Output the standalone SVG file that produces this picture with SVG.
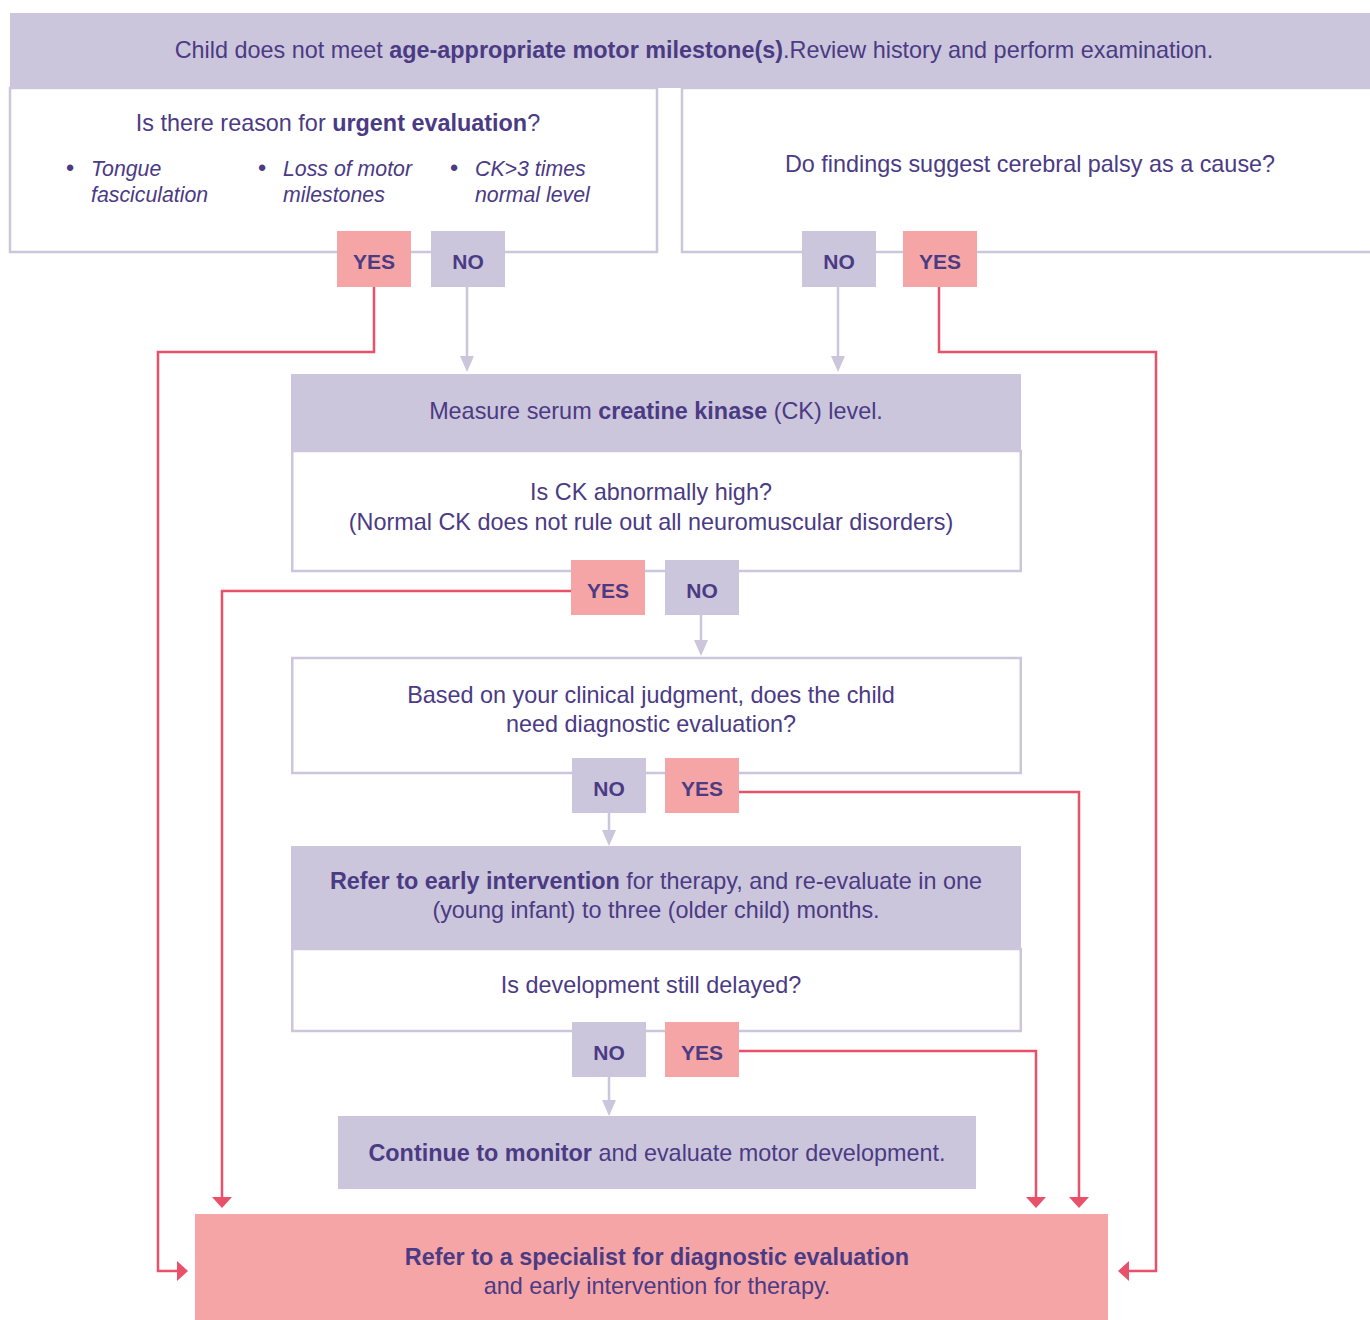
<svg xmlns="http://www.w3.org/2000/svg" width="1370" height="1320" viewBox="0 0 1370 1320">
<defs>
<style>
text{font-family:"Liberation Sans",Arial,sans-serif;fill:#4B3A84;font-size:23.4px}
.c{text-anchor:middle}
.b{font-weight:bold}
.i{font-style:italic;font-size:21.3px}
.lav{fill:#CBC6DC}
.pink{fill:#F6A5A6}
.box{fill:#fff;stroke:#CBC6DC;stroke-width:2.5}
.btn{font-weight:bold;font-size:21px;text-anchor:middle}
.red{fill:none;stroke:#E9506A;stroke-width:2.5}
.gl{fill:none;stroke:#CBC6DC;stroke-width:2.5}
</style>
</defs>

<g id="header">
<rect class="lav" x="10" y="13" width="1360" height="75"/>
<text class="c" x="694" y="58">Child does not meet <tspan class="b">age-appropriate motor milestone(s)</tspan>.Review history and perform examination.</text>
</g>

<g id="urgent">
<rect class="box" x="10" y="88" width="647" height="164"/>
<text class="c" x="338" y="131">Is there reason for <tspan class="b">urgent evaluation</tspan>?</text>
<text x="66" y="176" font-size="16">•</text>
<text class="i" x="91" y="176">Tongue</text>
<text class="i" x="91" y="202">fasciculation</text>
<text x="258" y="176" font-size="16">•</text>
<text class="i" x="283" y="176">Loss of motor</text>
<text class="i" x="283" y="202">milestones</text>
<text x="450" y="176" font-size="16">•</text>
<text class="i" x="475" y="176">CK&gt;3 times</text>
<text class="i" x="475" y="202">normal level</text>
</g>

<g id="cp">
<rect class="box" x="682" y="88" width="700" height="164"/>
<text class="c" x="1030" y="172">Do findings suggest cerebral palsy as a cause?</text>
</g>

<g id="connectors">
<polyline class="red" points="374,287 374,352 158,352 158,1271 178,1271"/>
<path d="M177,1261 L188,1271 L177,1281 Z" fill="#E9506A"/>
<polyline class="red" points="939,287 939,352 1156,352 1156,1271 1128,1271"/>
<path d="M1129,1261 L1118,1271 L1129,1281 Z" fill="#E9506A"/>
<line class="gl" x1="467" y1="287" x2="467" y2="358"/>
<path d="M460,356 L474,356 L467,372 Z" fill="#CBC6DC"/>
<line class="gl" x1="838" y1="287" x2="838" y2="358"/>
<path d="M831,356 L845,356 L838,372 Z" fill="#CBC6DC"/>
<polyline class="red" points="571,591 222,591 222,1198"/>
<path d="M212,1197 L232,1197 L222,1208 Z" fill="#E9506A"/>
<line class="gl" x1="701" y1="615" x2="701" y2="642"/>
<path d="M694,640 L708,640 L701,656 Z" fill="#CBC6DC"/>
<polyline class="red" points="739,792 1079,792 1079,1198"/>
<path d="M1069,1197 L1089,1197 L1079,1208 Z" fill="#E9506A"/>
<line class="gl" x1="609" y1="813" x2="609" y2="832"/>
<path d="M602,830 L616,830 L609,846 Z" fill="#CBC6DC"/>
<polyline class="red" points="739,1051 1036,1051 1036,1198"/>
<path d="M1026,1197 L1046,1197 L1036,1208 Z" fill="#E9506A"/>
<line class="gl" x1="609" y1="1077" x2="609" y2="1102"/>
<path d="M602,1100 L616,1100 L609,1116 Z" fill="#CBC6DC"/>
</g>

<g id="btn-urgent-yes"><rect class="pink" x="337" y="231" width="74" height="56"/><text class="btn" x="374" y="269">YES</text></g>
<g id="btn-urgent-no"><rect class="lav" x="431" y="231" width="74" height="56"/><text class="btn" x="468" y="269">NO</text></g>
<g id="btn-cp-no"><rect class="lav" x="802" y="231" width="74" height="56"/><text class="btn" x="839" y="269">NO</text></g>
<g id="btn-cp-yes"><rect class="pink" x="903" y="231" width="74" height="56"/><text class="btn" x="940" y="269">YES</text></g>

<g id="ck">
<rect class="lav" x="291" y="374" width="730" height="77"/>
<rect class="box" x="292.25" y="451" width="728.5" height="120"/>
<text class="c" x="656" y="419">Measure serum <tspan class="b">creatine kinase</tspan> (CK) level.</text>
<text class="c" x="651" y="500">Is CK abnormally high?</text>
<text class="c" x="651" y="530">(Normal CK does not rule out all neuromuscular disorders)</text>
</g>
<g id="btn-ck-yes"><rect class="pink" x="571" y="560" width="74" height="55"/><text class="btn" x="608" y="598">YES</text></g>
<g id="btn-ck-no"><rect class="lav" x="665" y="560" width="74" height="55"/><text class="btn" x="702" y="598">NO</text></g>

<g id="judgment">
<rect class="box" x="292.25" y="658" width="728.5" height="115"/>
<text class="c" x="651" y="703">Based on your clinical judgment, does the child</text>
<text class="c" x="651" y="732">need diagnostic evaluation?</text>
</g>
<g id="btn-j-no"><rect class="lav" x="572" y="758" width="74" height="55"/><text class="btn" x="609" y="796">NO</text></g>
<g id="btn-j-yes"><rect class="pink" x="665" y="758" width="74" height="55"/><text class="btn" x="702" y="796">YES</text></g>

<g id="early">
<rect class="lav" x="291" y="846" width="730" height="103"/>
<rect class="box" x="292.25" y="949" width="728.5" height="82"/>
<text class="c" x="656" y="889"><tspan class="b">Refer to early intervention</tspan> for therapy, and re-evaluate in one</text>
<text class="c" x="656" y="918">(young infant) to three (older child) months.</text>
<text class="c" x="651" y="993">Is development still delayed?</text>
</g>
<g id="btn-d-no"><rect class="lav" x="572" y="1022" width="74" height="55"/><text class="btn" x="609" y="1060">NO</text></g>
<g id="btn-d-yes"><rect class="pink" x="665" y="1022" width="74" height="55"/><text class="btn" x="702" y="1060">YES</text></g>

<g id="monitor">
<rect class="lav" x="338" y="1116" width="638" height="73"/>
<text class="c" x="657" y="1161"><tspan class="b">Continue to monitor</tspan> and evaluate motor development.</text>
</g>

<g id="specialist">
<rect class="pink" x="195" y="1214" width="913" height="106"/>
<text class="c b" x="657" y="1265">Refer to a specialist for diagnostic evaluation</text>
<text class="c" x="657" y="1294">and early intervention for therapy.</text>
</g>
</svg>
